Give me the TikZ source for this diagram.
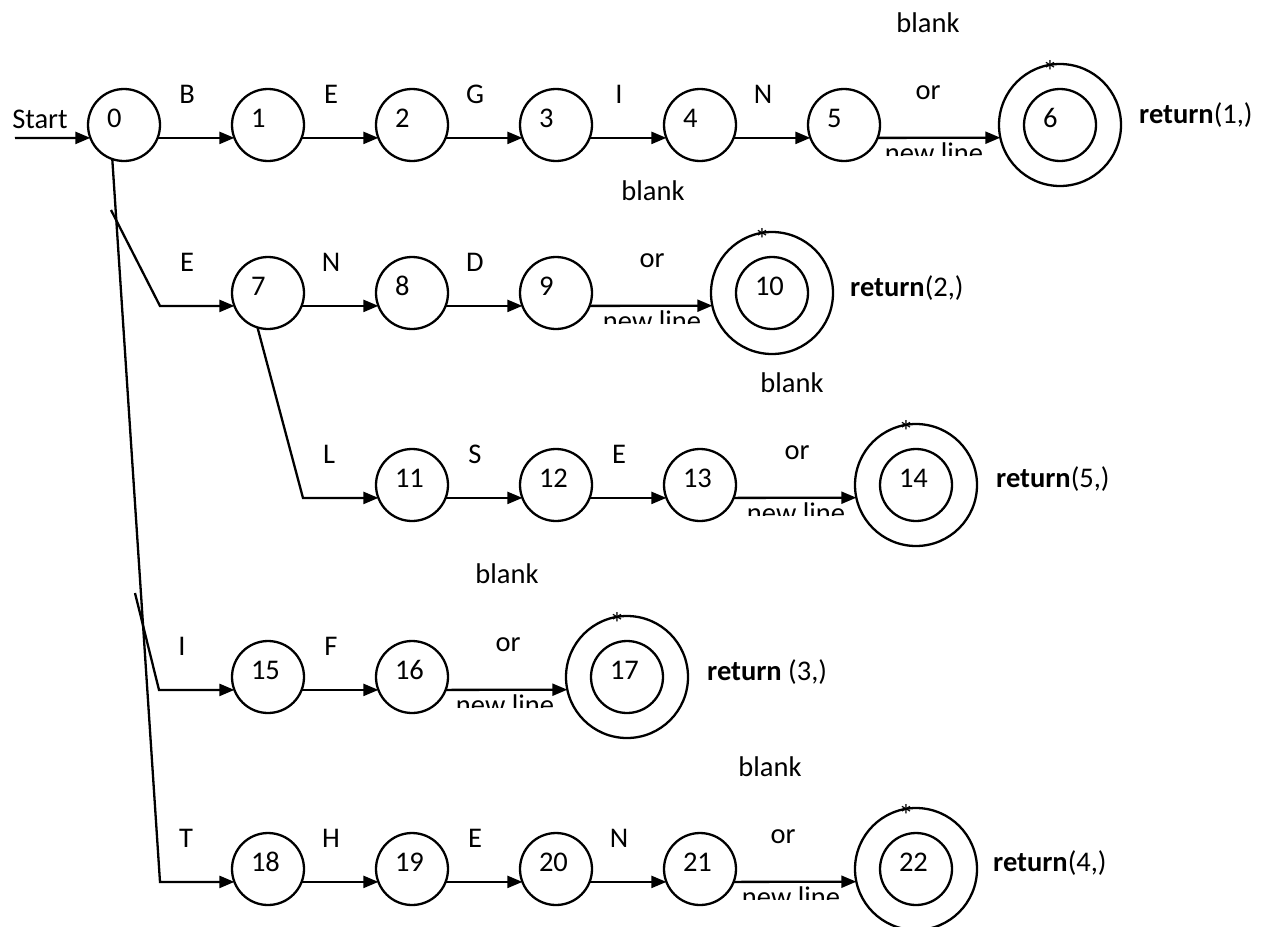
\documentclass[tikz,border=0pt]{standalone}
\usepackage{fontspec}
\setmainfont{Carlito}
\usetikzlibrary{arrows.meta}
\newcommand\dfs{\fontsize{28.5}{34}\selectfont}
\begin{document}
\begin{tikzpicture}[x=1pt,y=-1pt,
  st/.style={circle,draw,line width=2.3pt,minimum size=72pt,inner sep=0pt,outer sep=0pt,
    font=\dfs,text width=34pt,align=left,text height=11pt,text depth=7pt},
  fin/.style={circle,draw,line width=2.3pt,minimum size=122pt,inner sep=0pt,outer sep=0pt},
  tr/.style={-{Triangle[length=15pt,width=12pt]},line width=2.3pt},
  txt/.style={anchor=base,inner sep=0pt,font=\dfs},
  star/.style={anchor=base,inner sep=0pt,font=\fontsize{31}{36}\selectfont},
  ret/.style={anchor=base west,inner sep=0pt,font=\dfs},
]
\useasboundingbox (0,0) rectangle (1265,926);
% row 1
\node[st] (n0) at (124,125) {0};
\node[st] (n1) at (268,125) {1};
\node[st] (n2) at (412,125) {2};
\node[st] (n3) at (556,125) {3};
\node[st] (n4) at (700,125) {4};
\node[st] (n5) at (844,125) {5};
\node[st] (n6) at (1060,125) {6};
\node[fin] (n6o) at (1060,125) {};
% row 2
\node[st] (n7) at (268,293) {7};
\node[st] (n8) at (412,293) {8};
\node[st] (n9) at (556,293) {9};
\node[st] (n10) at (772,293) {10};
\node[fin] (n10o) at (772,293) {};
% row 3
\node[st] (n11) at (412,485) {11};
\node[st] (n12) at (556,485) {12};
\node[st] (n13) at (700,485) {13};
\node[st] (n14) at (916,485) {14};
\node[fin] (n14o) at (916,485) {};
% row 4
\node[st] (n15) at (268,677) {15};
\node[st] (n16) at (412,677) {16};
\node[st] (n17) at (627,677) {17};
\node[fin] (n17o) at (627,677) {};
% row 5
\node[st] (n18) at (268,869) {18};
\node[st] (n19) at (412,869) {19};
\node[st] (n20) at (556,869) {20};
\node[st] (n21) at (700,869) {21};
\node[st] (n22) at (916,869) {22};
\node[fin] (n22o) at (916,869) {};

% stars
\node[star] (s6) at (1050,82) {*};
\node[star] (s10) at (762,250) {*};
\node[star] (s14) at (906,442) {*};
\node[star] (s17) at (617,634) {*};
\node[star] (s22) at (906,826) {*};

% start
\coordinate (st0) at (15,138);
\node[txt] (start) at (40,128) {Start};
\draw[tr] (st0) -- (n0.201.2);

% row arrows
\draw[tr] (n0.-21.2) -- (n1.201.2);
\draw[tr] (n1.-21.2) -- (n2.201.2);
\draw[tr] (n2.-21.2) -- (n3.201.2);
\draw[tr] (n3.-21.2) -- (n4.201.2);
\draw[tr] (n4.-21.2) -- (n5.201.2);
\draw[tr] (n5.-21.2) -- (n6o.192.3);
\draw[tr] (n7.-21.2) -- (n8.201.2);
\draw[tr] (n8.-21.2) -- (n9.201.2);
\draw[tr] (n9.-21.2) -- (n10o.192.3);
\draw[tr] (n11.-21.2) -- (n12.201.2);
\draw[tr] (n12.-21.2) -- (n13.201.2);
\draw[tr] (n13.-21.2) -- (n14o.192.3);
\draw[tr] (n15.-21.2) -- (n16.201.2);
\draw[tr] (n16.-21.2) -- (n17o.192.3);
\draw[tr] (n18.-21.2) -- (n19.201.2);
\draw[tr] (n19.-21.2) -- (n20.201.2);
\draw[tr] (n20.-21.2) -- (n21.201.2);
\draw[tr] (n21.-21.2) -- (n22o.192.3);

% branches
\coordinate (b1) at (160,882);
\draw[tr] (n0.-109.4) -- (b1) -- (n18.201.2);
\coordinate (e0) at (111,210);
\coordinate (e1) at (160,306);
\draw[tr] (e0) -- (e1) -- (n7.201.2);
\coordinate (i0) at (135,593);
\coordinate (i1) at (159,690);
\draw[tr] (i0) -- (i1) -- (n15.201.2);
\coordinate (l1) at (303,498);
\draw[tr] (n7.-107) -- (l1) -- (n11.201.2);

% letter labels
\node[txt] (lB) at (187,103) {B};
\node[txt] (lE1) at (331,103) {E};
\node[txt] (lG) at (475,103) {G};
\node[txt] (lI1) at (619,103) {I};
\node[txt] (lN1) at (763,103) {N};
\node[txt] (lE2) at (187,271) {E};
\node[txt] (lN2) at (331,271) {N};
\node[txt] (lD) at (475,271) {D};
\node[txt] (lL) at (329,463) {L};
\node[txt] (lS) at (475,463) {S};
\node[txt] (lE3) at (619,463) {E};
\node[txt] (lI4) at (182,655) {I};
\node[txt] (lF) at (331,655) {F};
\node[txt] (lT) at (186,847) {T};
\node[txt] (lH) at (331,847) {H};
\node[txt] (lE5) at (475,847) {E};
\node[txt] (lN5) at (619,847) {N};

% blank / or / new line
\node[txt] (bl1) at (928,32) {blank};
\node[txt] (or1) at (928,99) {or};
\node[txt] (bl2) at (653,200) {blank};
\node[txt] (or2) at (652,267) {or};
\node[txt] (bl3) at (792,392) {blank};
\node[txt] (or3) at (797,459) {or};
\node[txt] (bl4) at (507,583) {blank};
\node[txt] (or4) at (508,651) {or};
\node[txt] (bl5) at (770,776) {blank};
\node[txt] (or5) at (783,843) {or};
\begin{scope}
\clip (850,130) rectangle (1000,155.5);
\node[txt] (nl1) at (934,162) {new line};
\end{scope}
\begin{scope}
\clip (570,298) rectangle (720,323.5);
\node[txt] (nl2) at (652,330) {new line};
\end{scope}
\begin{scope}
\clip (714,490) rectangle (864,515.5);
\node[txt] (nl3) at (796,522) {new line};
\end{scope}
\begin{scope}
\clip (423,682) rectangle (573,707.5);
\node[txt] (nl4) at (505,714) {new line};
\end{scope}
\begin{scope}
\clip (709,874) rectangle (859,899.5);
\node[txt] (nl5) at (791,906) {new line};
\end{scope}

% return labels
\node[ret] (r1) at (1139,123) {\textbf{return}(1,)};
\node[ret] (r2) at (850,296) {\textbf{return}(2,)};
\node[ret] (r3) at (996,487) {\textbf{return}(5,)};
\node[ret] (r4) at (707,680) {\textbf{return} (3,)};
\node[ret] (r5) at (993,871) {\textbf{return}(4,)};
\end{tikzpicture}
\end{document}
